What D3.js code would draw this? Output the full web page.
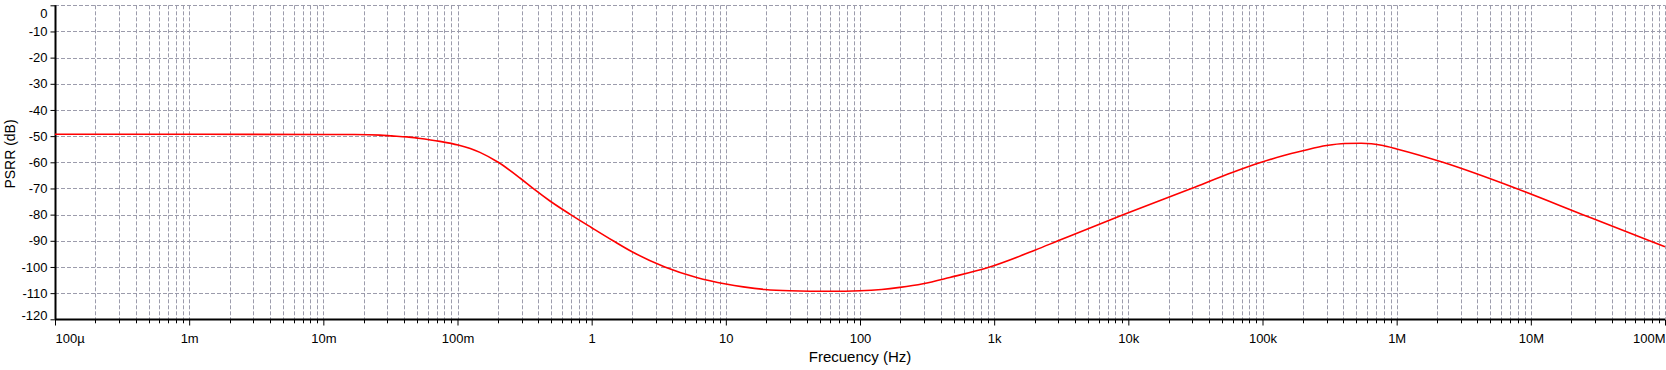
<!DOCTYPE html>
<html>
<head>
<meta charset="utf-8">
<script src="https://cdn.jsdelivr.net/npm/d3@7"></script>
<style>
  html, body { margin: 0; padding: 0; background: #fff; }
  svg { display: block; }
  text { font-family: "Liberation Sans", Arial, sans-serif; fill: #000; }
</style>
</head>
<body>
<svg id="chart" width="1666" height="370"></svg>
<script>
// ---- data ----
const freqHz = [1e-4, 1e-3, 1e-2, 0.017, 0.0264, 0.0323, 0.042, 0.0509, 0.074, 0.101, 0.147, 0.201, 0.292, 0.366,
  0.489, 0.697, 1.0, 1.445, 2.0, 3.51, 6.05, 10, 13.5, 19.5, 30, 60, 100, 145, 198, 295, 467,
  902, 2030, 2990, 9140, 29500, 60200, 95300, 1.42e5, 2e5, 3e5, 4.1e5, 5.45e5, 7.9e5, 1e6,
  2.21e6, 7.8e6, 2.44e7, 7.67e7, 1e8];
const psrrDb = [-49.3, -49.3, -49.35, -49.4, -49.6, -49.9, -50.3, -50.8, -52.0, -53.4, -56.2, -60.0, -66.0, -70.0,
  -74.8, -80.0, -85.0, -90.0, -94.2, -100.0, -104.0, -106.5, -107.6, -108.6, -109.1, -109.3, -109.1, -108.6, -107.8, -106.4, -104.0,
  -100.2, -93.5, -90.0, -80.0, -70.0, -63.8, -60.2, -57.5, -55.6, -53.6, -52.8, -52.7, -53.6, -54.9,
  -60.0, -70.0, -80.0, -90.0, -92.3];
const xTickValues = [1e-4, 1e-3, 1e-2, 1e-1, 1, 10, 100, 1e3, 1e4, 1e5, 1e6, 1e7, 1e8];
const xTickLabels = ["100µ", "1m", "10m", "100m", "1", "10", "100", "1k", "10k", "100k", "1M", "10M", "100M"];
const yTickValues = [0, -10, -20, -30, -40, -50, -60, -70, -80, -90, -100, -110, -120];
const yTickLabels = ["0", "-10", "-20", "-30", "-40", "-50", "-60", "-70", "-80", "-90", "-100", "-110", "-120"];
const xTitle = "Frecuency (Hz)";
const yTitle = "PSRR (dB)";

// ---- layout ----
const svg = d3.select("#chart");
const mLeft = 55, mRight = 1665, mTop = 5.3, mBottom = 319.3;
const x = d3.scaleLog().domain([1e-4, 1e8]).range([mLeft, mRight]);
const y = d3.scaleLinear().domain([-120, 0]).range([mBottom, mTop]);

// minor positions
const minor = [];
for (let e = -4; e < 8; e++) {
  for (let k = 2; k <= 9; k++) minor.push(k * Math.pow(10, e));
}

const gridColor = "#9c9cac";
const grid = svg.append("g").attr("stroke", gridColor).attr("stroke-width", 1)
  .attr("stroke-dasharray", "4,2").attr("fill", "none");

// horizontal gridlines
grid.selectAll("line.h").data(yTickValues.filter(v => v > -120)).enter().append("line")
  .attr("x1", mLeft).attr("x2", mRight)
  .attr("y1", d => Math.round(y(d)) + 0.5).attr("y2", d => Math.round(y(d)) + 0.5);

// vertical gridlines (minor + major)
grid.selectAll("line.v").data(minor.concat(xTickValues.filter(v => v > 1e-4))).enter().append("line")
  .attr("y1", mTop).attr("y2", mBottom)
  .attr("x1", d => Math.round(x(d)) + 0.5).attr("x2", d => Math.round(x(d)) + 0.5);

// axes
const xAxis = d3.axisBottom(x).tickValues(xTickValues)
  .tickFormat((d, i) => xTickLabels[i]).tickSize(6).tickPadding(8);
const gx = svg.append("g").attr("transform", `translate(0,${Math.round(mBottom) + 0.5})`).call(xAxis);
gx.select(".domain").attr("stroke", "#000").attr("stroke-width", 2).attr("d", `M${mLeft},0H${mRight}`);
gx.selectAll(".tick line").attr("stroke", "#000");
gx.selectAll(".tick text").attr("font-size", 13).attr("font-family", "Liberation Sans, Arial, sans-serif");
gx.selectAll(".tick text").filter((d, i) => i === 0).attr("text-anchor", "start");
gx.selectAll(".tick text").filter((d, i) => i === xTickValues.length - 1).attr("text-anchor", "end");

// minor x ticks
svg.append("g").selectAll("line").data(minor).enter().append("line")
  .attr("x1", d => Math.round(x(d)) + 0.5).attr("x2", d => Math.round(x(d)) + 0.5)
  .attr("y1", mBottom).attr("y2", mBottom + 4).attr("stroke", "#000");

const yAxis = d3.axisLeft(y).tickValues(yTickValues)
  .tickFormat((d, i) => yTickLabels[i]).tickSize(5).tickPadding(3);
const gy = svg.append("g").attr("transform", `translate(${mLeft + 0.5},0)`).call(yAxis);
gy.select(".domain").attr("stroke", "#000").attr("stroke-width", 2).attr("d", `M0,${mTop}V${mBottom}`);
gy.selectAll(".tick line").attr("stroke", "#000");
gy.selectAll(".tick text").attr("font-size", 13).attr("font-family", "Liberation Sans, Arial, sans-serif");
gy.selectAll(".tick text").filter(d => d === 0).attr("dy", "0.95em");
gy.selectAll(".tick text").filter(d => d === -120).attr("dy", "0.0em");

// curve
const line = d3.line()
  .x((d, i) => x(freqHz[i]))
  .y((d, i) => y(psrrDb[i]))
  .curve(d3.curveMonotoneX);
svg.append("path").datum(psrrDb).attr("d", line)
  .attr("fill", "none").attr("stroke", "#ff0000").attr("stroke-width", 1.6);

// titles
svg.append("text").attr("x", 860).attr("y", 362).attr("text-anchor", "middle")
  .attr("font-size", 15).text(xTitle);
svg.append("text").attr("transform", "translate(15,154) rotate(-90)")
  .attr("text-anchor", "middle").attr("font-size", 14).text(yTitle);
</script>
</body>
</html>
